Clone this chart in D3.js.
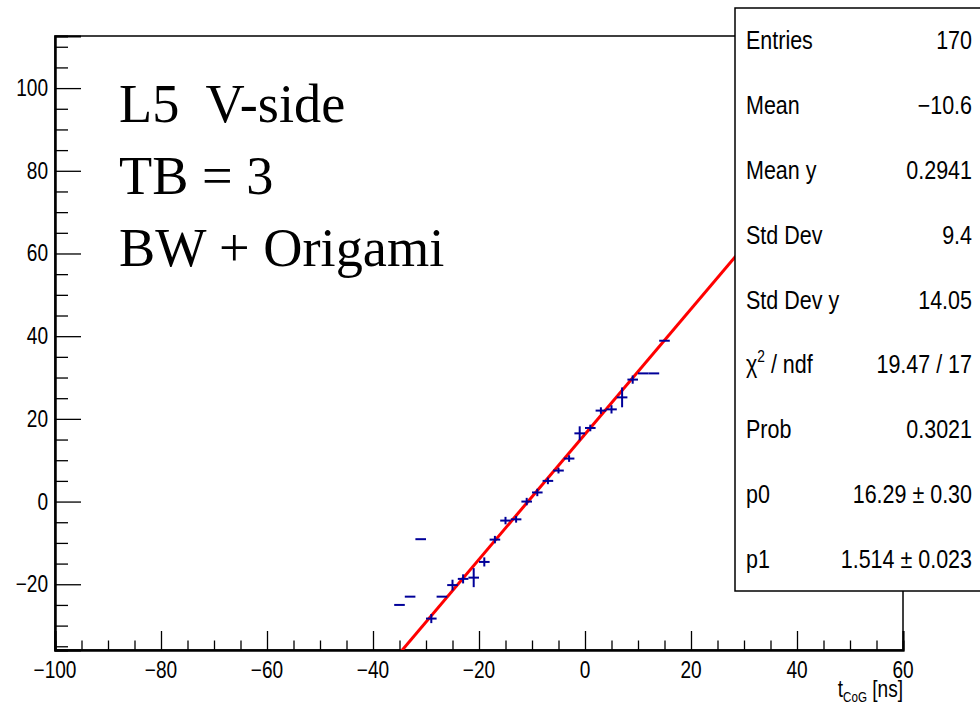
<!DOCTYPE html>
<html>
<head>
  <meta charset="utf-8">
  <title></title>
<style type="text/css">
    body { margin: 0; background: white; }
    .tick-label {
      font-family: "Liberation Sans", Arial, sans-serif;
      font-size: 23px;
      fill: black;
    }
    .stat-text {
      font-family: "Liberation Sans", Arial, sans-serif;
      font-size: 25px;
      fill: black;
    }
    .title-text {
      font-family: "Liberation Serif", "Times New Roman", serif;
      font-size: 56px;
      fill: black;
      white-space: pre;
    }
</style>
<script src="https://cdnjs.cloudflare.com/ajax/libs/d3/7.8.5/d3.min.js"></script>
</head>
<body>
<script>
  var w = 980;
  var h = 707;

  // profile bins (centres, bin width 2 ns)
  var binCenters = [-35, -33, -31, -29, -27, -25, -23, -21, -19, -17, -15, -13, -11, -9, -7, -5, -3, -1, 1, 3, 5, 7, 9, 11, 13, 15];
  var binMeans   = [-25.0, -23.0, -9.1, -28.3, -23.0, -20.2, -18.7, -18.4, -14.6, -9.2, -4.6, -4.3, 0.0, 2.2, 5.0, 7.5, 10.4, 16.5, 17.8, 22.0, 22.3, 25.2, 29.5, 31.0, 31.0, 38.9];
  var binErrors  = [0, 0, 0, 1.1, 0, 1.3, 1.1, 2.3, 1.1, 0.9, 0.9, 0.8, 0.9, 0.9, 0.8, 0.7, 0.8, 1.7, 0.8, 0.8, 1.0, 2.4, 1.0, 0, 0, 0];
  var binHalfWidth = 1;

  // linear fit p0 + p1*x
  var fitP0 = 16.29;
  var fitP1 = 1.514;

  var xMajorTicks = [-100, -80, -60, -40, -20, 0, 20, 40, 60];
  var yMajorTicks = [-20, 0, 20, 40, 60, 80, 100];

  var statLabels = ["Entries", "Mean", "Mean y", "Std Dev", "Std Dev y", "chi2", "Prob", "p0", "p1"];
  var statValues = ["170", "\u221210.6", "0.2941", "9.4", "14.05", "19.47 / 17", "0.3021", "16.29 \u00b1 0.30", "1.514 \u00b1 0.023"];

  var titleLines = ["L5  V-side", "TB = 3", "BW + Origami"];

  var plotLeft = 55, plotRight = 903, plotTop = 36, plotBottom = 650;

  var xScale = d3.scaleLinear()
                  .domain([-100, 60])
                  .range([plotLeft, plotRight]);

  var yScale = d3.scaleLinear()
                  .domain([-35.9, 112.6])
                  .range([plotBottom, plotTop]);

  var svg = d3.select("body").append("svg")
              .attr("width", w)
              .attr("height", h);

  svg.append("rect")
     .attr("width", w)
     .attr("height", h)
     .attr("fill", "white");

  svg.append("clipPath")
     .attr("id", "plot-clip")
     .append("rect")
     .attr("x", plotLeft)
     .attr("y", plotTop)
     .attr("width", plotRight - plotLeft)
     .attr("height", plotBottom - plotTop);

  // frame
  svg.append("rect")
     .attr("x", plotLeft)
     .attr("y", plotTop)
     .attr("width", plotRight - plotLeft)
     .attr("height", plotBottom - plotTop)
     .attr("fill", "none")
     .attr("stroke", "black")
     .attr("stroke-width", 1.5);

  // x axis (ticks point up into the frame)
  var xMinor = d3.range(-100, 60.01, 5).filter(function (d) { return xMajorTicks.indexOf(d) < 0; });
  var xAxis = d3.axisTop(xScale).tickValues(xMajorTicks).tickSize(19).tickFormat("");
  var xAxisMinor = d3.axisTop(xScale).tickValues(xMinor).tickSize(9.5).tickFormat("");

  svg.append("g")
     .attr("class", "x-axis")
     .attr("transform", "translate(0," + plotBottom + ")")
     .call(xAxisMinor);
  svg.append("g")
     .attr("class", "x-axis")
     .attr("transform", "translate(0," + plotBottom + ")")
     .call(xAxis);

  // y axis (ticks point right into the frame)
  var yMinor = d3.range(-35, 112, 5).filter(function (d) { return yMajorTicks.indexOf(d) < 0; });
  var yAxis = d3.axisRight(yScale).tickValues(yMajorTicks).tickSize(26).tickFormat("");
  var yAxisMinor = d3.axisRight(yScale).tickValues(yMinor).tickSize(13).tickFormat("");

  svg.append("g")
     .attr("class", "y-axis")
     .attr("transform", "translate(" + plotLeft + ",0)")
     .call(yAxisMinor);
  svg.append("g")
     .attr("class", "y-axis")
     .attr("transform", "translate(" + plotLeft + ",0)")
     .call(yAxis);

  svg.selectAll(".x-axis path, .y-axis path")
     .attr("stroke", "black")
     .attr("stroke-width", 2);
  svg.selectAll(".x-axis line, .y-axis line")
     .attr("stroke", "black")
     .attr("stroke-width", 1.3);

  function fmt(d) {
    return d < 0 ? "\u2212" + Math.abs(d) : String(d);
  }

  svg.selectAll(".x-label")
     .data(xMajorTicks)
     .enter().append("text")
     .attr("class", "tick-label x-label")
     .attr("text-anchor", "middle")
     .attr("transform", function (d) { return "translate(" + xScale(d) + "," + (plotBottom + 28) + ") scale(0.83,1)"; })
     .text(fmt);

  svg.selectAll(".y-label")
     .data(yMajorTicks)
     .enter().append("text")
     .attr("class", "tick-label y-label")
     .attr("text-anchor", "end")
     .attr("transform", function (d) { return "translate(" + (plotLeft - 7) + "," + (yScale(d) + 8) + ") scale(0.83,1)"; })
     .text(fmt);

  // x axis title t_CoG [ns]
  var xTitle = svg.append("text")
     .attr("class", "tick-label")
     .attr("text-anchor", "end")
     .attr("transform", "translate(" + plotRight + "," + (h - 10) + ") scale(0.83,1)");
  xTitle.append("tspan").text("t");
  xTitle.append("tspan").attr("font-size", "14px").attr("dy", 5).text("CoG");
  xTitle.append("tspan").attr("dy", -5).text(" [ns]");

  // fit line
  var fitX = [-40, 60];
  var fitLine = d3.line()
                  .x(function (d) { return xScale(d); })
                  .y(function (d) { return yScale(fitP0 + fitP1 * d); });

  svg.append("path")
     .datum(fitX)
     .attr("d", fitLine)
     .attr("clip-path", "url(#plot-clip)")
     .attr("fill", "none")
     .attr("stroke", "#ff0000")
     .attr("stroke-width", 3);

  // profile points: horizontal bin width + vertical error
  var points = binCenters.map(function (c, i) {
    return { x: c, y: binMeans[i], e: binErrors[i] };
  });

  var marks = svg.append("g")
                 .attr("clip-path", "url(#plot-clip)")
                 .attr("stroke", "#000099")
                 .attr("stroke-width", 2);

  marks.selectAll(".hbar")
       .data(points)
       .enter().append("line")
       .attr("x1", function (d) { return xScale(d.x - binHalfWidth); })
       .attr("x2", function (d) { return xScale(d.x + binHalfWidth); })
       .attr("y1", function (d) { return yScale(d.y); })
       .attr("y2", function (d) { return yScale(d.y); });

  marks.selectAll(".vbar")
       .data(points.filter(function (d) { return d.e > 0; }))
       .enter().append("line")
       .attr("x1", function (d) { return xScale(d.x); })
       .attr("x2", function (d) { return xScale(d.x); })
       .attr("y1", function (d) { return yScale(d.y - d.e); })
       .attr("y2", function (d) { return yScale(d.y + d.e); });

  // title text
  svg.selectAll(".title-text")
     .data(titleLines)
     .enter().append("text")
     .attr("class", "title-text")
     .attr("transform", function (d, i) { return "translate(119," + (122 + i * 72) + ") scale(0.97,1)"; })
     .text(function (d) { return d; });

  // stats box
  var boxX = 735, boxY = 8, boxH = 583;
  svg.append("rect")
     .attr("x", boxX)
     .attr("y", boxY)
     .attr("width", w - boxX + 10)
     .attr("height", boxH)
     .attr("fill", "white")
     .attr("stroke", "black")
     .attr("stroke-width", 1.5);

  var rowH = boxH / statLabels.length;

  var labels = svg.selectAll(".stat-label")
     .data(statLabels)
     .enter().append("text")
     .attr("class", "stat-text stat-label")
     .attr("transform", function (d, i) { return "translate(746," + (boxY + rowH * (i + 0.5) + 9) + ") scale(0.86,1)"; });

  labels.each(function (d) {
    var t = d3.select(this);
    if (d === "chi2") {
      t.append("tspan").text("\u03c7");
      t.append("tspan").attr("font-size", "16px").attr("dy", -11).text("2");
      t.append("tspan").attr("dy", 11).text(" / ndf");
    } else {
      t.text(d);
    }
  });

  svg.selectAll(".stat-value")
     .data(statValues)
     .enter().append("text")
     .attr("class", "stat-text stat-value")
     .attr("text-anchor", "end")
     .attr("transform", function (d, i) { return "translate(972," + (boxY + rowH * (i + 0.5) + 9) + ") scale(0.86,1)"; })
     .text(function (d) { return d; });

</script>
</body>
</html>
